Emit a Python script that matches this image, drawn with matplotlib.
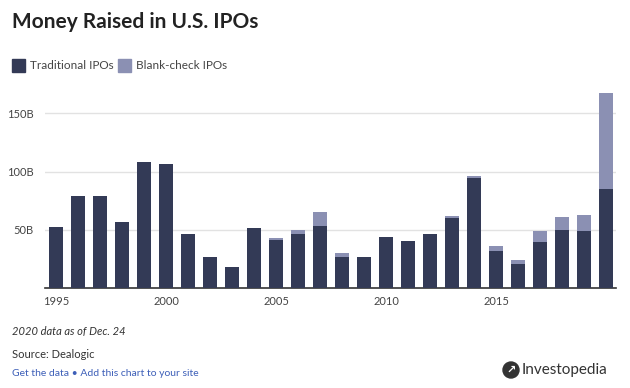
import numpy as np
import matplotlib
matplotlib.use('Agg')
import matplotlib.pyplot as plt
from matplotlib.patches import Ellipse, Rectangle

plt.rcParams['font.family'] = ['Lato', 'DejaVu Sans']

# data, billions of dollars
years = list(range(1995, 2021))
traditional = [52.6, 79.1, 79.1, 56.9, 108.3, 106.6, 46.6, 26.9, 18.3, 51.7,
               41.4, 46.6, 53.4, 26.9, 26.9, 44.0, 40.6, 46.6, 60.3, 94.6,
               32.0, 20.9, 39.7, 50.0, 49.1, 85.1]
blank_check = [0, 0, 0, 0, 0, 0, 0, 0, 0, 0,
               1.7, 3.4, 12.0, 3.4, 0, 0, 0, 0, 1.7, 1.7,
               4.3, 3.4, 9.4, 11.1, 13.8, 82.3]
y_ticks = [50, 100, 150]
y_labels = ['50B', '100B', '150B']
x_label_years = [1995, 2000, 2005, 2010, 2015]

DARK = '#333a56'
LIGHT = '#8b90b3'

fig = plt.figure(figsize=(6.3, 3.88), dpi=100)
W, H = 630, 388
ax = fig.add_axes([45 / W, 100 / H, (616 - 45) / W, (288 - 90) / H])

x = np.arange(len(years))
ax.bar(x, traditional, width=0.62, color=DARK, zorder=3)
ax.bar(x, blank_check, width=0.62, bottom=traditional, color=LIGHT, zorder=3)

ax.set_xlim(-0.51, 25.45)
ax.set_ylim(0, 170)
ax.set_yticks(y_ticks)
ax.set_yticklabels(y_labels)
ax.set_xticks([years.index(y) for y in x_label_years])
ax.set_xticklabels([str(y) for y in x_label_years])
ax.grid(axis='y', color='#e2e2e2', lw=1, zorder=0)
for s in ['top', 'right', 'left']:
    ax.spines[s].set_visible(False)
ax.spines['bottom'].set_color('#333333')
ax.spines['bottom'].set_linewidth(1.2)
ax.tick_params(axis='both', length=0, labelsize=8, labelcolor='#444444')
ax.tick_params(axis='x', pad=6)
ax.tick_params(axis='y', pad=8)

# title and legend
fig.text(12 / W, 1 - 22 / H, 'Money Raised in U.S. IPOs', fontsize=15,
         fontweight='bold', color='#222222', va='center')
fig.patches.append(Rectangle((12 / W, 1 - 72 / H), 13 / W, 13 / H,
                             transform=fig.transFigure, color=DARK))
fig.text(30 / W, 1 - 65.5 / H, 'Traditional IPOs', fontsize=8.5,
         color='#444444', va='center')
fig.patches.append(Rectangle((118 / W, 1 - 72 / H), 13 / W, 13 / H,
                             transform=fig.transFigure, color=LIGHT))
fig.text(136 / W, 1 - 65.5 / H, 'Blank-check IPOs', fontsize=8.5,
         color='#444444', va='center')

# footer
fig.text(12 / W, 1 - 332 / H, '2020 data as of Dec. 24', fontsize=8,
         style='italic', color='#333333', va='center')
fig.text(12 / W, 1 - 354 / H, 'Source: Dealogic', fontsize=8,
         color='#333333', va='center')
fig.text(12 / W, 1 - 373 / H, 'Get the data \u2022 Add this chart to your site',
         fontsize=7.5, color='#3d5fb8', va='center')

# logo
fig.patches.append(Ellipse((511 / W, 1 - 370 / H), 16 / W, 16 / H,
                           transform=fig.transFigure, color='#333333'))
fig.text(511 / W, 1 - 370 / H, '\u2197', fontsize=8, color='white',
         fontweight='bold', ha='center', va='center', family='DejaVu Sans')
fig.text(522 / W, 1 - 370 / H, 'Investopedia', fontsize=11, color='#333333',
         va='center')

fig.savefig('out.png', dpi=100)
